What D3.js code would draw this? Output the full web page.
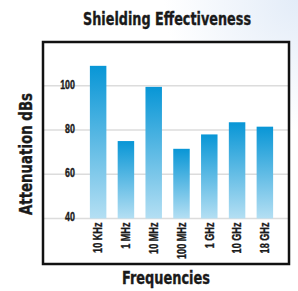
<!DOCTYPE html>
<html><head><meta charset="utf-8">
<script src="https://cdn.jsdelivr.net/npm/d3@7/dist/d3.min.js"></script>
<style>
html,body{margin:0;padding:0;background:#fff;}
svg{display:block;}
text{font-family:"DejaVu Sans Condensed","DejaVu Sans",sans-serif;font-stretch:condensed;font-weight:bold;fill:#1a1a1a;stroke:#1a1a1a;stroke-width:0.35px;}
</style></head>
<body>
<script>
const categories = ["10 KHz","1 MHz","10 MHz","100 MHz","1 GHz","10 GHz","18 GHz"];
const values = [109, 75, 99.5, 71.5, 78, 83.5, 81.5];
const yTicks = [40, 60, 80, 100];
const title = "Shielding Effectiveness";
const xTitle = "Frequencies";
const yTitle = "Attenuation dBs";

const W = 298, H = 291;
const svg = d3.select("body").append("svg").attr("width", W).attr("height", H);
const defs = svg.append("defs");

const bg = defs.append("radialGradient").attr("id","bg").attr("cx",1).attr("cy",0).attr("r",0.45);
bg.append("stop").attr("offset","0%").attr("stop-color","#e3ecf8");
bg.append("stop").attr("offset","100%").attr("stop-color","#ffffff");
svg.append("rect").attr("width",W).attr("height",H).attr("fill","url(#bg)");

const bar = defs.append("linearGradient").attr("id","barg").attr("x1",0).attr("y1",0).attr("x2",0).attr("y2",1);
bar.append("stop").attr("offset","0%").attr("stop-color","#0896d6");
bar.append("stop").attr("offset","100%").attr("stop-color","#b4dff3");

function condense(sel, f) {
  sel.each(function() {
    const len = this.getComputedTextLength();
    d3.select(this).attr("textLength", len * f).attr("lengthAdjust", "spacingAndGlyphs");
  });
}

const frame = {x0: 43, y0: 42, x1: 289, y1: 264};
svg.append("rect").attr("x",frame.x0).attr("y",frame.y0)
  .attr("width",frame.x1-frame.x0).attr("height",frame.y1-frame.y0)
  .attr("fill","#fff");

const x = d3.scaleBand().domain(categories).range([76, 287]).paddingInner(0.407).paddingOuter(0.5);
const y = d3.scaleLinear().domain([40, 120]).range([218.5, 41.5]);

// gridlines
svg.append("g").selectAll("line").data(yTicks).join("line")
  .attr("x1", frame.x0).attr("x2", frame.x1)
  .attr("y1", d => y(d)).attr("y2", d => y(d))
  .attr("stroke", "#dcdcdc").attr("stroke-width", 1.5);

// y tick labels
const yAxis = d3.axisLeft(y).tickValues(yTicks).tickSize(0).tickPadding(0);
const ya = svg.append("g").attr("transform","translate(75,-1.5)").call(yAxis);
ya.select(".domain").remove();
ya.selectAll("text").attr("font-size", 12).attr("font-family", null).style("font-family","inherit").attr("fill","#1a1a1a");
condense(ya.selectAll("text"), 0.74);

// bars
svg.append("g").selectAll("rect").data(values).join("rect")
  .attr("x", (d,i) => x(categories[i]))
  .attr("width", x.bandwidth())
  .attr("y", d => y(d))
  .attr("height", d => y(40) - y(d))
  .attr("fill", "url(#barg)");

// x tick labels
const xAxis = d3.axisBottom(x).tickSize(0).tickPadding(0);
const xa = svg.append("g").attr("transform", `translate(0,${y(40)})`).call(xAxis);
xa.select(".domain").remove();
xa.selectAll("text")
  .attr("font-size", 12).attr("font-family", null).style("font-family","inherit").attr("fill","#1a1a1a")
  .attr("transform","rotate(-90)")
  .attr("text-anchor","end")
  .attr("x", -4).attr("y", 0).attr("dy", "0.36em");
condense(xa.selectAll("text"), 0.76);

// frame border
svg.append("rect").attr("x",frame.x0).attr("y",frame.y0)
  .attr("width",frame.x1-frame.x0).attr("height",frame.y1-frame.y0)
  .attr("fill","none").attr("stroke","#111").attr("stroke-width",2.5);

// titles
svg.append("text").attr("x",167).attr("y",25).attr("text-anchor","middle")
  .attr("font-size",18).attr("textLength",168).attr("lengthAdjust","spacingAndGlyphs").text(title);
svg.append("text").attr("x",166).attr("y",284).attr("text-anchor","middle")
  .attr("font-size",18).attr("textLength",88).attr("lengthAdjust","spacingAndGlyphs").text(xTitle);
svg.append("text").attr("transform","translate(32,154) rotate(-90)").attr("text-anchor","middle")
  .attr("font-size",18).attr("textLength",122).attr("lengthAdjust","spacingAndGlyphs").text(yTitle);
</script>
</body></html>
